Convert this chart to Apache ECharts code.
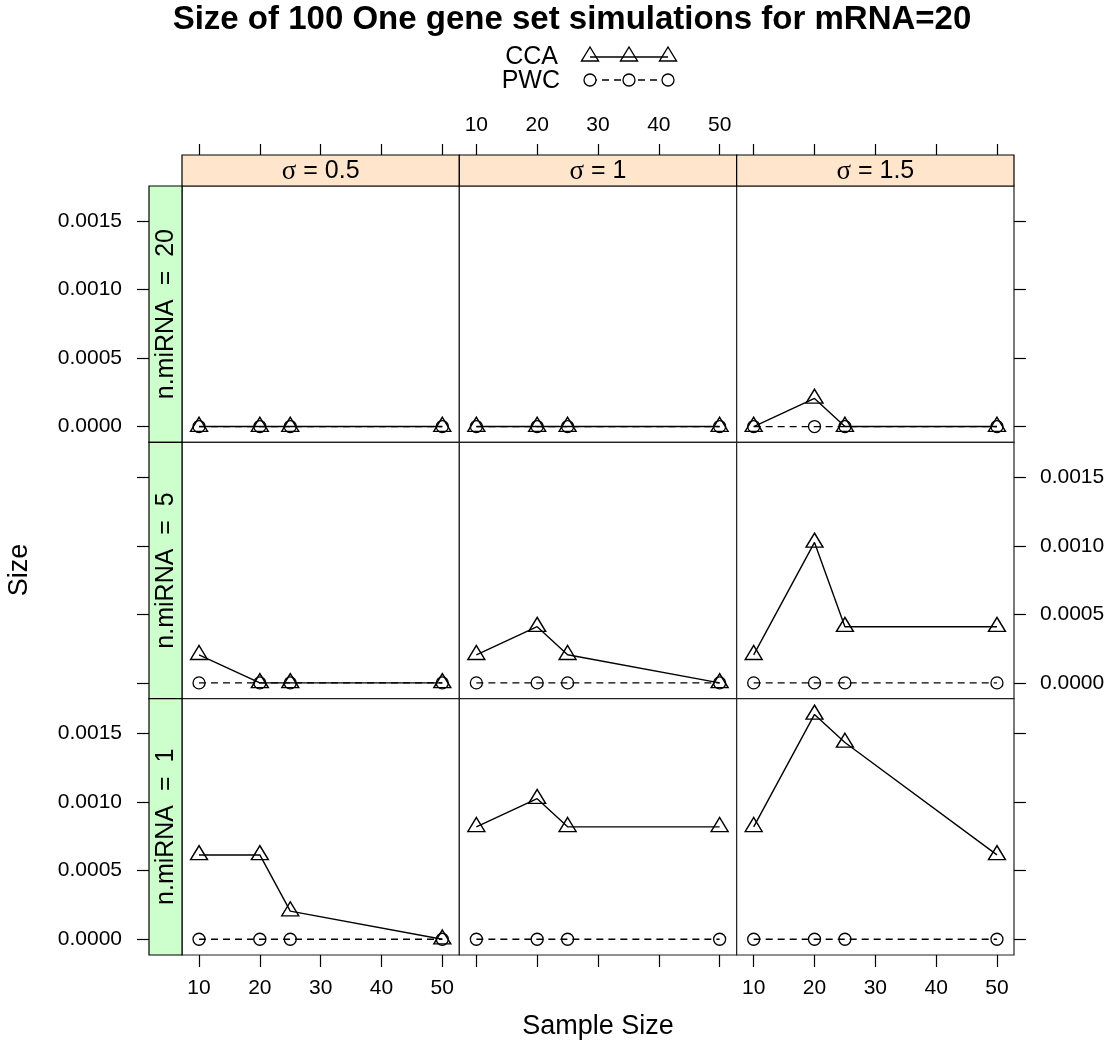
<!DOCTYPE html>
<html>
<head>
<meta charset="utf-8">
<title>Size of 100 One gene set simulations</title>
<script src="https://cdn.jsdelivr.net/npm/echarts@6/dist/echarts.min.js"></script>
<style>
  html, body { margin: 0; padding: 0; background: #fff; }
  #chart { width: 1112px; height: 1046px; }
</style>
</head>
<body>
<div id="chart"></div>
<script>
// sample sizes on the x axis
const sampleSizes = [10, 20, 25, 50];
const sigmaLevels = ["0.5", "1", "1.5"];
const mirnaLevels = ["20", "5", "1"]; // top row to bottom row
const xTicks = [10, 20, 30, 40, 50];
const yTicks = [0, 0.0005, 0.001, 0.0015];

// CCA sizes, one array per sigma (0.5, 1, 1.5)
const ccaN20 = [
  [0, 0, 0, 0],
  [0, 0, 0, 0],
  [0, 0.000205, 0, 0],
];
const ccaN5 = [
  [0.000205, 0, 0, 0],
  [0.000205, 0.00041, 0.000205, 0],
  [0.000205, 0.001025, 0.00041, 0.00041],
];
const ccaN1 = [
  [0.000615, 0.000615, 0.000205, 0],
  [0.00082, 0.001025, 0.00082, 0.00082],
  [0.00082, 0.00164, 0.001435, 0.000615],
];
// PWC sizes
const pwcN20 = [
  [0, 0, 0, 0],
  [0, 0, 0, 0],
  [0, 0, 0, 0],
];
const pwcN5 = [
  [0, 0, 0, 0],
  [0, 0, 0, 0],
  [0, 0, 0, 0],
];
const pwcN1 = [
  [0, 0, 0, 0],
  [0, 0, 0, 0],
  [0, 0, 0, 0],
];
const ccaRows = [ccaN20, ccaN5, ccaN1];
const pwcRows = [pwcN20, pwcN5, pwcN1];

const FONT = "Liberation Sans, Arial, sans-serif";
const L0 = 182, T0 = 186, W = 277.33, H = 256.33;
const STRIP_TOP = 31, STRIP_LEFT = 33;
const xMin = 7.2, xMax = 52.8;
const yMin = -0.000115, yMax = 0.001755;
const tickStyle = { color: "#000", width: 1.2 };

var chart = echarts.init(document.getElementById("chart"), null, { renderer: "canvas" });

let grid = [], xAxis = [], yAxis = [], series = [], graphic = [];

for (let r = 0; r < 3; r++) {
  for (let c = 0; c < 3; c++) {
    let g = grid.length;
    grid.push({
      left: L0 + c * W, top: T0 + r * H, width: W, height: H,
      show: true, borderColor: "#222", borderWidth: 1.2, backgroundColor: "#fff",
    });

    // bottom x axis (the one the series use)
    let xi = xAxis.length;
    xAxis.push({
      gridIndex: g, type: "value", min: xMin, max: xMax, position: "bottom",
      axisLine: { show: false, onZero: false }, splitLine: { show: false },
      axisTick: { show: r === 2, length: 12, customValues: xTicks, lineStyle: tickStyle },
      axisLabel: { show: r === 2 && c !== 1, customValues: xTicks, fontSize: 21, margin: 23, color: "#000", fontFamily: FONT },
    });
    if (r === 0) {
      xAxis.push({
        gridIndex: g, type: "value", min: xMin, max: xMax, position: "top", offset: STRIP_TOP,
        axisLine: { show: false, onZero: false }, splitLine: { show: false },
        axisTick: { length: 11, customValues: xTicks, lineStyle: tickStyle },
        axisLabel: { show: c === 1, customValues: xTicks, fontSize: 21, margin: 19, color: "#000", fontFamily: FONT },
      });
    }

    let yi = yAxis.length;
    yAxis.push({
      gridIndex: g, type: "value", min: yMin, max: yMax, position: "left",
      offset: c === 0 ? STRIP_LEFT : 0,
      axisLine: { show: false, onZero: false }, splitLine: { show: false },
      axisTick: { show: c === 0, length: 12, customValues: yTicks, lineStyle: tickStyle },
      axisLabel: {
        show: c === 0 && r !== 1, customValues: yTicks, fontSize: 21, margin: 27, color: "#000", fontFamily: FONT,
        formatter: (v) => v.toFixed(4),
      },
    });
    if (c === 2) {
      yAxis.push({
        gridIndex: g, type: "value", min: yMin, max: yMax, position: "right",
        axisLine: { show: false, onZero: false }, splitLine: { show: false },
        axisTick: { length: 12, customValues: yTicks, lineStyle: tickStyle },
        axisLabel: {
          show: r === 1, customValues: yTicks, fontSize: 21, margin: 26, color: "#000", fontFamily: FONT,
          formatter: (v) => v.toFixed(4),
        },
      });
    }

    series.push({
      name: "CCA", type: "line", xAxisIndex: xi, yAxisIndex: yi,
      data: sampleSizes.map((s, i) => [s, ccaRows[r][c][i]]),
      symbol: "triangle", symbolSize: [17, 14], symbolOffset: [0, -2.3],
      lineStyle: { color: "#000", width: 1.4 },
      itemStyle: { color: "rgba(0,0,0,0)", borderColor: "#000", borderWidth: 1.4 },
      silent: true, z: 3,
    });
    series.push({
      name: "PWC", type: "line", xAxisIndex: xi, yAxisIndex: yi,
      data: sampleSizes.map((s, i) => [s, pwcRows[r][c][i]]),
      symbol: "circle", symbolSize: 12,
      lineStyle: { color: "#000", width: 1.3, type: [7, 5] },
      itemStyle: { color: "rgba(0,0,0,0)", borderColor: "#000", borderWidth: 1.3 },
      silent: true, z: 2,
    });
  }
}

// strips
for (let c = 0; c < 3; c++) {
  graphic.push({
    type: "rect", shape: { x: L0 + c * W, y: T0 - STRIP_TOP, width: W, height: STRIP_TOP },
    style: { fill: "#ffe5cc", stroke: "#000", lineWidth: 1.2 },
  });
  graphic.push({
    type: "text", x: L0 + c * W + W / 2, y: T0 - STRIP_TOP / 2 + 1,
    style: {
      text: "{s|σ} = " + sigmaLevels[c], align: "center", verticalAlign: "middle",
      fontSize: 25, fontFamily: FONT, fill: "#000",
      rich: { s: { fontFamily: "Liberation Serif, serif", fontSize: 27, fill: "#000" } },
    },
  });
}
for (let r = 0; r < 3; r++) {
  graphic.push({
    type: "rect", shape: { x: L0 - STRIP_LEFT, y: T0 + r * H, width: STRIP_LEFT, height: H },
    style: { fill: "#ccffcc", stroke: "#000", lineWidth: 1.2 },
  });
  graphic.push({
    type: "text", x: L0 - STRIP_LEFT / 2 + 1, y: T0 + r * H + H / 2, rotation: Math.PI / 2,
    style: {
      text: "n.miRNA  =  " + mirnaLevels[r], align: "center", verticalAlign: "middle",
      fontSize: 25, fontFamily: FONT, fill: "#000",
    },
  });
}

// title and axis names
graphic.push({
  type: "text", x: 572, y: 20,
  style: { text: "Size of 100 One gene set simulations for mRNA=20", align: "center", verticalAlign: "middle",
    fontSize: 33, fontWeight: "bold", fontFamily: FONT, fill: "#000" },
});
graphic.push({
  type: "text", x: 598, y: 1027,
  style: { text: "Sample Size", align: "center", verticalAlign: "middle", fontSize: 27, fontFamily: FONT, fill: "#000" },
});
graphic.push({
  type: "text", x: 20, y: 570, rotation: Math.PI / 2,
  style: { text: "Size", align: "center", verticalAlign: "middle", fontSize: 27, fontFamily: FONT, fill: "#000" },
});

// key
const keyX = [590, 629, 668];
graphic.push({
  type: "text", x: 558, y: 57,
  style: { text: "CCA", align: "right", verticalAlign: "middle", fontSize: 25, fontFamily: FONT, fill: "#000" },
});
graphic.push({
  type: "text", x: 560, y: 81,
  style: { text: "PWC", align: "right", verticalAlign: "middle", fontSize: 25, fontFamily: FONT, fill: "#000" },
});
graphic.push({
  type: "polyline", shape: { points: [[keyX[0], 57], [keyX[2], 57]] },
  style: { stroke: "#000", lineWidth: 1.4, fill: null },
});
keyX.forEach((x) => {
  graphic.push({
    type: "polygon", shape: { points: [[x, 47], [x + 8.5, 61], [x - 8.5, 61]] },
    style: { fill: "rgba(0,0,0,0)", stroke: "#000", lineWidth: 1.4 },
  });
});
graphic.push({
  type: "polyline", shape: { points: [[keyX[0], 80], [keyX[2], 80]] },
  style: { stroke: "#000", lineWidth: 1.3, fill: null, lineDash: [7, 5] },
});
keyX.forEach((x) => {
  graphic.push({
    type: "circle", shape: { cx: x, cy: 80, r: 6 },
    style: { fill: "#fff", stroke: "#000", lineWidth: 1.3 },
  });
});

let option = {
  backgroundColor: "#fff",
  animation: false,
  grid: grid,
  xAxis: xAxis,
  yAxis: yAxis,
  series: series,
  graphic: graphic,
};

option && chart.setOption(option);
</script>
</body>
</html>
